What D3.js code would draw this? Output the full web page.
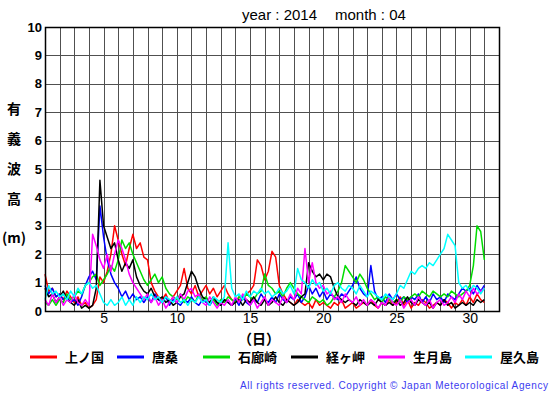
<!DOCTYPE html>
<html>
<head>
<meta charset="utf-8">
<script src="https://cdn.jsdelivr.net/npm/d3@7"></script>
<style>
body { margin: 0; background: #fff; }
svg { display: block; }
</style>
</head>
<body>
<script>
// 6-hourly significant wave height (m), April 2014, day 1 00h .. day 31 00h
var stations = ['上ノ国', '唐桑', '石廊崎', '経ヶ岬', '生月島', '屋久島'];
var colors = ['#ff0000', '#0000ff', '#00dd00', '#000000', '#ff00ff', '#00ffff'];

var kaminokuni = [
 1.3,0.7,0.8,0.5, 0.6,0.4,0.7,0.5, 0.3,0.5,0.2,0.3, 0.1,0.2,0.4,1.2,
 1.0,1.4,2.0,3.0, 2.5,2.0,1.6,2.2, 2.7,2.2,2.4,1.9, 1.8,1.0,0.7,0.5,
 0.4,0.6,0.3,0.5, 0.7,0.9,1.5,0.8, 0.6,0.9,0.5,0.7, 0.9,0.6,0.8,0.5,
 0.7,0.9,0.6,0.4, 0.3,0.5,0.4,0.6, 0.7,0.9,1.8,1.6, 1.1,1.4,2.1,1.9,
 0.9,0.6,0.4,0.3, 0.2,0.4,0.3,0.2, 0.3,0.1,0.4,0.2, 0.3,0.2,0.1,0.3,
 0.2,0.4,0.1,0.2, 0.3,0.1,0.2,0.3, 0.2,0.4,0.2,0.1, 0.3,0.2,0.4,0.2,
 0.3,0.5,0.2,0.4, 0.1,0.3,0.2,0.4, 0.3,0.1,0.2,0.3, 0.2,0.4,0.3,0.1,
 0.3,0.2,0.4,0.2, 0.5,0.3,0.6,0.4, 0.3];
var karakuwa = [
 0.9,0.6,0.8,0.5, 0.6,0.4,0.5,0.3, 0.4,0.2,0.5,0.9, 1.2,1.4,1.1,3.7,
 2.6,1.8,1.3,1.0, 0.8,0.5,0.7,0.4, 0.6,0.4,0.5,0.3, 0.5,0.3,0.6,0.4,
 0.3,0.5,0.2,0.4, 0.3,0.2,0.4,0.3, 0.5,0.3,0.2,0.4, 0.3,0.2,0.4,0.3,
 0.2,0.4,0.3,0.2, 0.4,0.2,0.5,0.3, 0.2,0.4,0.3,0.6, 0.4,0.3,0.5,0.3,
 0.6,0.4,0.3,0.5, 0.4,0.6,0.3,0.5, 0.9,0.6,0.8,0.5, 0.7,0.4,0.6,0.5,
 0.4,0.6,0.5,0.7, 0.9,1.2,0.8,0.6, 0.5,1.6,0.7,0.4, 0.5,0.3,0.6,0.4,
 0.6,0.4,0.5,0.3, 0.5,0.4,0.6,0.3, 0.5,0.3,0.6,0.4, 0.5,0.3,0.6,0.5,
 0.4,0.6,0.8,0.7, 0.8,0.6,0.9,0.7, 0.9];
var irozaki = [
 0.3,0.2,0.4,0.2, 0.4,0.3,0.6,0.4, 0.5,0.7,0.6,0.9, 1.0,1.2,1.3,0.9,
 1.1,1.3,1.6,1.4, 1.8,2.5,2.2,2.4, 2.0,1.7,1.4,1.1, 0.9,1.1,1.3,1.0,
 1.2,0.8,0.6,0.5, 0.4,0.6,0.3,0.5, 0.4,0.3,0.6,0.4, 0.5,0.3,0.4,0.2,
 0.4,0.3,0.5,0.4, 0.3,0.5,0.4,0.6, 0.5,0.4,0.6,0.7, 1.3,0.9,0.8,0.6,
 0.7,0.5,0.8,1.0, 0.8,0.6,0.5,0.4, 0.3,0.5,0.4,0.3, 0.4,0.2,0.3,0.5,
 0.7,1.0,1.6,1.4, 1.2,1.0,1.3,1.1, 0.8,0.6,0.4,0.5, 0.3,0.5,0.4,0.3,
 0.4,0.3,0.5,0.4, 0.5,0.6,0.5,0.7, 0.6,0.5,0.7,0.6, 0.5,0.6,0.5,0.7,
 0.6,0.5,0.6,0.7, 0.9,1.6,3.0,2.8, 1.8];
var kyogamisaki = [
 0.8,0.5,0.6,0.3, 0.5,0.7,0.4,0.3, 0.2,0.4,0.1,0.2, 0.1,0.2,0.8,4.6,
 3.0,2.6,2.2,2.4, 1.8,1.4,1.7,1.5, 1.8,1.2,0.9,0.7, 0.6,0.8,0.5,0.4,
 0.5,0.3,0.4,0.2, 0.3,0.5,0.6,1.0, 1.4,1.2,0.8,0.5, 0.4,0.3,0.5,0.3,
 0.2,0.4,0.3,0.2, 0.3,0.4,0.2,0.4, 0.3,0.5,0.3,0.2, 0.4,0.2,0.3,0.5,
 0.3,0.2,0.4,0.3, 0.2,0.3,0.5,0.6, 1.7,1.4,1.2,1.3, 1.1,1.3,1.2,0.8,
 0.5,0.4,0.3,0.4, 0.3,0.2,0.4,0.3, 0.2,0.3,0.2,0.4, 0.3,0.2,0.3,0.2,
 0.4,0.2,0.3,0.5, 0.3,0.2,0.4,0.3, 0.2,0.3,0.1,0.3, 0.2,0.4,0.2,0.3,
 0.1,0.2,0.3,0.2, 0.3,0.2,0.4,0.3, 0.4];
var ikitsukishima = [
 0.4,0.2,0.6,0.3, 0.5,0.2,0.4,0.3, 0.6,0.3,0.2,0.4, 0.2,2.7,2.3,1.8,
 1.5,2.0,1.4,2.0, 2.5,2.2,1.8,1.3, 1.0,0.8,0.6,0.4, 0.6,0.3,0.5,0.2,
 0.4,0.1,0.3,0.5, 0.3,0.6,0.4,0.7, 0.8,0.5,0.6,0.3, 0.2,0.5,0.3,0.1,
 0.3,0.2,0.4,0.2, 0.5,0.3,0.6,0.4, 0.2,0.4,0.1,0.3, 0.5,0.2,0.4,0.3,
 0.2,0.5,0.3,0.6, 0.4,0.8,0.6,2.2, 1.0,1.7,1.0,0.8, 0.9,0.6,0.7,0.4,
 0.5,0.3,0.6,0.4, 0.3,0.5,0.2,0.4, 0.2,0.4,0.3,0.1, 0.3,0.2,0.5,0.3,
 0.2,0.4,0.1,0.3, 0.4,0.2,0.5,0.3, 0.2,0.4,0.1,0.3, 0.4,0.2,0.3,0.5,
 0.3,0.6,0.4,0.7, 0.5,0.8,0.6,0.7, 0.8];
var yakushima = [
 0.4,0.9,0.6,0.7, 0.5,0.6,0.4,0.7, 0.5,0.8,0.6,0.9, 1.0,0.8,0.9,0.6,
 0.3,0.2,0.4,0.2, 0.3,0.5,0.2,0.4, 0.2,0.5,0.3,0.5, 0.4,0.6,0.4,0.5,
 0.3,0.5,0.4,0.3, 0.5,0.3,0.4,0.2, 0.4,0.3,0.5,0.3, 0.4,0.2,0.5,0.4,
 0.3,0.5,2.4,0.8, 0.5,0.6,0.4,0.7, 0.5,0.7,0.6,0.8, 0.6,0.7,0.5,0.6,
 0.8,0.6,0.7,0.9, 0.6,1.5,1.1,1.0, 0.8,1.1,0.9,1.0, 0.7,0.8,0.6,0.9,
 1.0,0.8,0.7,0.9, 0.8,0.6,0.9,0.7, 0.5,0.7,0.6,0.5, 0.4,0.6,0.5,0.4,
 0.6,0.9,0.8,1.1, 1.4,1.3,1.5,1.6, 1.5,1.7,1.6,1.8, 2.0,2.2,2.7,2.5,
 2.3,1.0,0.8,0.9, 0.7,0.9,0.8,0.6, 0.8];

var series = [kaminokuni, karakuwa, irozaki, kyogamisaki, ikitsukishima, yakushima];
var yTicks = [0,1,2,3,4,5,6,7,8,9,10];
var xTicks = [5,10,15,20,25,30];
var yTitle = ['有', '義', '波', '高', '(m)'];

var width = 555, height = 395;
var pLeft = 45, pRight = 499, pTop = 27, pBottom = 311;

var svg = d3.select('body').append('svg').attr('width', width).attr('height', height)

var x = d3.scaleLinear().domain([1, 32]).range([pLeft, pRight])
var y = d3.scaleLinear().domain([0, 10]).range([pBottom, pTop])

// grid
svg.append('g').selectAll('line').data(d3.range(2, 32)).enter().append('line')
   .attr('x1', d => Math.round(x(d))+0.5).attr('x2', d => Math.round(x(d))+0.5)
   .attr('y1', pTop).attr('y2', pBottom)
   .attr('stroke', '#505050').attr('stroke-width', 1)
svg.append('g').selectAll('line').data(d3.range(1, 10)).enter().append('line')
   .attr('x1', pLeft).attr('x2', pRight)
   .attr('y1', d => Math.round(y(d))+0.5).attr('y2', d => Math.round(y(d))+0.5)
   .attr('stroke', '#505050').attr('stroke-width', 1)

// data lines
var line = d3.line().x((d, i) => x(1 + i/4)).y(d => y(d))
svg.append('g').selectAll('path').data(series).enter().append('path')
   .attr('d', d => line(d))
   .attr('fill', 'none')
   .attr('stroke', (d, i) => colors[i])
   .attr('stroke-width', 1.5)
   .attr('stroke-linejoin', 'round')

// frame
svg.append('rect').attr('x', pLeft+0.5).attr('y', pTop+0.5)
   .attr('width', pRight-pLeft).attr('height', pBottom-pTop)
   .attr('fill', 'none').attr('stroke', '#000').attr('stroke-width', 1.5)

// axes
var yAxis = svg.append('g').attr('transform', 'translate('+(pLeft-3)+',0)')
   .call(d3.axisLeft(y).tickValues(yTicks).tickSize(0).tickPadding(0).tickFormat(d3.format('d')))
yAxis.select('.domain').remove()
yAxis.selectAll('text').attr('font-family', 'Liberation Sans, Arial, sans-serif')
     .attr('font-size', 13).attr('font-weight', 'bold').attr('fill', '#000')

var xAxis = svg.append('g').attr('transform', 'translate(0,'+pBottom+')')
   .call(d3.axisBottom(x).tickValues(xTicks).tickSize(0).tickPadding(2))
xAxis.select('.domain').remove()
xAxis.selectAll('text').attr('font-family', 'Liberation Sans, Arial, sans-serif')
     .attr('font-size', 14).attr('fill', '#000')

// titles
svg.append('text').attr('x', 242).attr('y', 20)
   .attr('font-family', 'Liberation Sans, Arial, sans-serif').attr('font-size', 15)
   .text('year : 2014')
svg.append('text').attr('x', 335).attr('y', 20)
   .attr('font-family', 'Liberation Sans, Arial, sans-serif').attr('font-size', 15)
   .text('month : 04')

svg.append('g').selectAll('text').data(yTitle).enter().append('text')
   .attr('x', 14).attr('y', (d, i) => 114 + i*30 + (i == 4 ? 9 : 0))
   .attr('text-anchor', 'middle')
   .attr('font-family', 'Noto Sans CJK JP, sans-serif').attr('font-size', 14).attr('font-weight', 'bold')
   .text(d => d)

svg.append('text').attr('x', 259).attr('y', 344).attr('text-anchor', 'middle')
   .attr('font-family', 'Noto Sans CJK JP, sans-serif').attr('font-size', 14).attr('font-weight', 'bold')
   .text('（日）')

// legend
var legendX = [30, 117, 203, 291, 378, 465]
var lg = svg.append('g').selectAll('g').data(stations).enter().append('g')
   .attr('transform', (d, i) => 'translate('+legendX[i]+',357)')
lg.append('line').attr('x1', 0).attr('x2', 27).attr('y1', 0).attr('y2', 0)
  .attr('stroke', (d, i) => colors[i]).attr('stroke-width', 3)
lg.append('text').attr('x', 35).attr('y', 5)
  .attr('font-family', 'Noto Sans CJK JP, sans-serif').attr('font-size', 13).attr('font-weight', 'bold')
  .text(d => d)

svg.append('text').attr('x', 240).attr('y', 389)
   .attr('font-family', 'Liberation Sans, Arial, sans-serif').attr('font-size', 10)
   .attr('textLength', 308).attr('lengthAdjust', 'spacing').attr('fill', '#3b3bf0')
   .text('All rights reserved. Copyright © Japan Meteorological Agency')
</script>
</body>
</html>
